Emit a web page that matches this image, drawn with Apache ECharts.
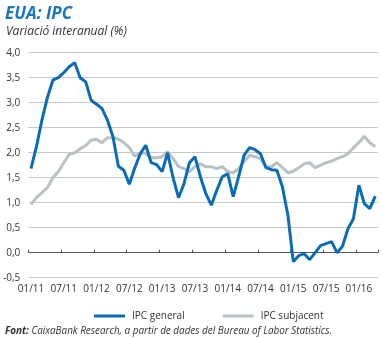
<!DOCTYPE html>
<html><head><meta charset="utf-8">
<script src="https://cdn.jsdelivr.net/npm/echarts@6/dist/echarts.min.js"></script>
<style>html,body{margin:0;padding:0;background:#fff}#c{width:383px;height:338px}</style>
</head><body><div id="c"></div>
<script>
var months = [
 '01/11','02/11','03/11','04/11','05/11','06/11','07/11','08/11','09/11','10/11','11/11','12/11',
 '01/12','02/12','03/12','04/12','05/12','06/12','07/12','08/12','09/12','10/12','11/12','12/12',
 '01/13','02/13','03/13','04/13','05/13','06/13','07/13','08/13','09/13','10/13','11/13','12/13',
 '01/14','02/14','03/14','04/14','05/14','06/14','07/14','08/14','09/14','10/14','11/14','12/14',
 '01/15','02/15','03/15','04/15','05/15','06/15','07/15','08/15','09/15','10/15','11/15','12/15',
 '01/16','02/16','03/16','04/16'];
var ipcGeneral = [
 1.68,2.12,2.65,3.10,3.45,3.50,3.60,3.72,3.80,3.50,3.42,3.05,
 2.97,2.88,2.65,2.32,1.73,1.65,1.37,1.70,1.98,2.15,1.80,1.76,
 1.62,2.00,1.50,1.10,1.38,1.80,1.92,1.52,1.18,0.95,1.25,1.52,
 1.58,1.12,1.52,1.95,2.10,2.06,1.98,1.70,1.66,1.65,1.32,0.76,
 -0.18,-0.06,-0.02,-0.14,0.00,0.14,0.18,0.22,0.00,0.13,0.48,0.68,
 1.35,0.98,0.88,1.13];
var ipcSubjacent = [
 0.96,1.10,1.20,1.30,1.50,1.62,1.80,1.97,2.00,2.08,2.14,2.25,
 2.27,2.20,2.30,2.30,2.27,2.20,2.10,1.93,2.00,1.98,1.90,1.90,
 1.92,2.02,1.88,1.72,1.68,1.62,1.72,1.78,1.72,1.72,1.68,1.72,
 1.62,1.60,1.68,1.82,1.95,1.92,1.88,1.72,1.72,1.80,1.70,1.60,
 1.63,1.70,1.78,1.80,1.70,1.75,1.80,1.83,1.88,1.92,1.98,2.10,
 2.20,2.33,2.20,2.12];
var seriesNames = ['IPC general','IPC subjacent'];
var titleText = 'EUA: IPC';
var subtitleText = 'Variació interanual (%)';
var sourceLabel = 'Font:';
var sourceText = 'CaixaBank Research, a partir de dades del Bureau of Labor Statistics.';

var chart = echarts.init(document.getElementById('c'), null, {renderer:'canvas'});
var FONT = 'Open Sans';
chart.setOption({
  animation:false,
  backgroundColor:'#fff',
  title:[
    {text:titleText, left:0, top:1, textStyle:{fontFamily:FONT, fontSize:17, fontWeight:'bold', fontStyle:'italic', color:'#1a76bd'}},
    {text:subtitleText, left:1, top:21, textStyle:{fontFamily:FONT, fontSize:12, fontWeight:'normal', fontStyle:'italic', color:'#333'}},
    {text:'{b|'+sourceLabel+'} '+sourceText, left:0, top:321, textStyle:{fontFamily:FONT, fontSize:9.9, fontWeight:'normal', fontStyle:'italic', color:'#333',
      rich:{b:{fontFamily:FONT, fontSize:9.9, fontWeight:'bold', fontStyle:'italic', color:'#333'}}}}
  ],
  legend:{
    left:89, top:306, itemWidth:31, itemHeight:3, itemGap:38, icon:'rect',
    textStyle:{fontFamily:FONT, fontSize:10, color:'#333', padding:[0,0,0,2]},
    data:seriesNames
  },
  grid:{left:26.7, right:5, top:52.7, bottom:60.3, containLabel:false},
  xAxis:{
    type:'category', data:months, boundaryGap:true,
    axisLine:{show:true, onZero:true, lineStyle:{color:'#555', width:1}},
    axisTick:{show:true, inside:true, length:3, interval:5, lineStyle:{color:'#555'}},
    axisLabel:{interval:5, margin:6, fontFamily:FONT, fontSize:10, color:'#333'},
    splitLine:{show:false}
  },
  yAxis:{
    type:'value', min:-0.5, max:4, interval:0.5,
    axisLine:{show:false}, axisTick:{show:false},
    axisLabel:{margin:8, fontFamily:FONT, fontSize:10, color:'#333',
      formatter:function(v){return v.toFixed(1).replace('.',',');}},
    splitLine:{show:true, lineStyle:{color:'#c8c8c8', width:1}}
  },
  series:[
    {name:seriesNames[1], type:'line', data:ipcSubjacent, symbol:'none', z:2,
      itemStyle:{color:'#b8c1c4'}, lineStyle:{color:'#b8c1c4', width:3}},
    {name:seriesNames[0], type:'line', data:ipcGeneral, symbol:'none', z:3,
      itemStyle:{color:'#0b6cb5'}, lineStyle:{color:'#0b6cb5', width:3}}
  ]
});
</script></body></html>
